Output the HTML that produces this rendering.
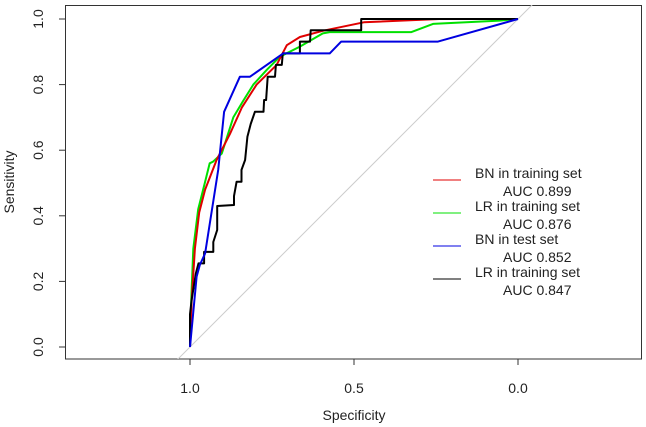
<!DOCTYPE html>
<html><head><meta charset="utf-8">
<style>
body{margin:0;background:#fff;}
svg{display:block;font-family:"Liberation Sans",Arial,sans-serif;}
</style></head>
<body>
<svg id="chart" width="646" height="427" viewBox="0 0 646 427" xmlns="http://www.w3.org/2000/svg">
<rect x="65.5" y="5.5" width="576" height="353.5" fill="none" stroke="#333" stroke-width="1"/>
<g id="axes"></g>
<g id="series"></g>
<text x="0" y="0" transform="translate(14,182) rotate(-90)" text-anchor="middle" font-size="14" fill="#222">Sensitivity</text>
<text x="354" y="420" text-anchor="middle" font-size="14" fill="#222">Specificity</text>
<g id="legend"></g>
</svg>
<script>
const xTicks = [1.0, 0.5, 0.0];
const xTickLabels = ["1.0", "0.5", "0.0"];
const yTicks = [0, 0.2, 0.4, 0.6, 0.8, 1.0];
const yTickLabels = ["0.0", "0.2", "0.4", "0.6", "0.8", "1.0"];
const seriesNames = ["BN in training set", "LR in training set", "BN in test set", "LR in training set"];
const seriesAUC = ["AUC 0.899", "AUC 0.876", "AUC 0.852", "AUC 0.847"];
const seriesColors = ["#e00000", "#00e000", "#0000e0", "#000000"];
const redSpec = [1,.995,.985,.972,.954,.919,.878,.842,.797,.736,.705,.665,.595,.47,.24,0];
const redSens = [0,.14,.30,.41,.48,.57,.65,.73,.80,.86,.92,.945,.964,.99,1,1];
const greenSpec = [1,.996,.99,.975,.955,.94,.93,.903,.868,.838,.807,.766,.726,.665,.595,.574,.325,.259,.056,0];
const greenSens = [0,.15,.30,.42,.50,.56,.565,.59,.70,.75,.80,.845,.885,.916,.956,.96,.96,.985,.995,1];
const blueSpec = [1,.98,.97,.954,.914,.896,.848,.817,.716,.595,.574,.539,.244,0];
const blueSens = [0,.214,.25,.285,.54,.717,.824,.824,.895,.895,.895,.931,.931,1];
const blackSpec = [1,1,.995,.982,.974,.957,.957,.929,.929,.917,.917,.866,.866,.858,.843,.843,.832,.825,.815,.802,.776,.774,.768,.763,.741,.738,.72,.717,.665,.665,.634,.632,.478,.478,0];
const blackSens = [0,.1,.143,.225,.255,.255,.29,.29,.32,.357,.43,.433,.46,.504,.504,.54,.57,.641,.68,.717,.717,.753,.753,.824,.824,.86,.86,.895,.895,.931,.931,.966,.966,1,1];

const NS = "http://www.w3.org/2000/svg";
const xS = v => 518 - v * 328;
const yS = v => 347 - v * 328;
function mk(tag, attrs, parent){const e=document.createElementNS(NS,tag);for(const k in attrs)e.setAttribute(k,attrs[k]);parent.appendChild(e);return e;}
const axes = document.getElementById('axes');
// diagonal reference line clipped to frame
mk('clipPath',{id:'clip'},axes).appendChild(Object.assign(document.createElementNS(NS,'rect'),{})).setAttribute('x','65');
const cp=axes.querySelector('clipPath rect');cp.setAttribute('y','5');cp.setAttribute('width','577');cp.setAttribute('height','354');
const diag = mk('line',{x1:xS(1.2),y1:yS(-0.2),x2:xS(-0.2),y2:yS(1.2),stroke:'#cccccc','stroke-width':1,'clip-path':'url(#clip)'},axes);


xTicks.forEach((t,i)=>{
  const l=mk('line',{x1:xS(t),x2:xS(t),y1:359,y2:365,stroke:'#333'},axes);
  
  
  const tx=mk('text',{x:xS(t),y:393,'text-anchor':'middle','font-size':14,fill:'#222'},axes);
  tx.textContent=xTickLabels[i];
  
  
});
yTicks.forEach((t,i)=>{
  const l=mk('line',{x1:59,x2:65,y1:yS(t),y2:yS(t),stroke:'#333'},axes);
  
  
  const tx=mk('text',{x:0,y:0,transform:`translate(43,${yS(t)}) rotate(-90)`,'text-anchor':'middle','font-size':14,fill:'#222'},axes);
  tx.textContent=yTickLabels[i];
  
  
});
const series=document.getElementById('series');
const data=[[redSpec,redSens],[greenSpec,greenSens],[blueSpec,blueSens],[blackSpec,blackSens]];
const order=[1,0,3,2];
const names=['bn-training-curve','lr-training-curve','bn-test-curve','lr-training-curve-2'];
order.forEach(i=>{
  const [sx,sy]=data[i];
  const pts=sx.map((v,j)=>xS(v).toFixed(1)+','+yS(sy[j]).toFixed(1)).join(' ');
  const p=mk('polyline',{points:pts,fill:'none',stroke:seriesColors[i],'stroke-width':2,'stroke-linejoin':'round'},series);
  
  
});
const lg=document.getElementById('legend');
seriesNames.forEach((n,i)=>{
  const y=180+i*33;
  const l=mk('line',{x1:433,x2:461,y1:y,y2:y,stroke:seriesColors[i],'stroke-width':1},lg);
  
  
  const t1=mk('text',{x:475,y:y-2,'font-size':14,fill:'#222'},lg);
  t1.textContent=n;
  
  
  const t2=mk('text',{x:503,y:y+16,'font-size':14,fill:'#222'},lg);
  t2.textContent=seriesAUC[i];
  
  
});
</script>
</body></html>
